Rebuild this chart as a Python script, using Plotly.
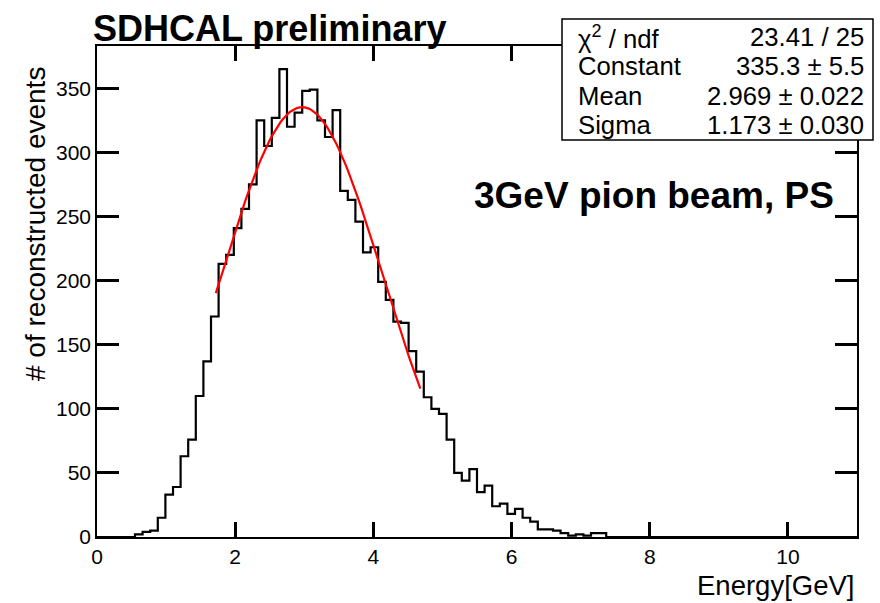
import plotly.graph_objects as go
import math

# ---------------- data ----------------
X_MIN, X_MAX, N_BINS = 0.0, 11.0, 100
BIN_COUNTS = [
    0, 0, 0, 0, 0, 2, 4, 5, 15, 33,
    39, 63, 76, 110, 137, 172, 213, 220, 241, 256,
    275, 325, 305, 327, 365, 320, 331, 348, 349, 325,
    312, 333, 270, 263, 246, 222, 226, 199, 185, 168,
    167, 145, 129, 109, 100, 96, 76, 50, 44, 53,
    35, 40, 24, 26, 18, 22, 15, 12, 6, 6,
    5, 3, 1, 2, 1, 3, 3, 0, 0, 0,
    0, 0, 0, 0, 0, 0, 0, 0, 0, 0,
    0, 0, 0, 0, 0, 0, 0, 0, 0, 0,
    0, 0, 0, 0, 0, 0, 0, 0, 0, 0,
]
# Gaussian fit parameters as printed in the stats box
FIT_CONSTANT = 335.3
FIT_MEAN = 2.969
FIT_SIGMA = 1.173
FIT_RANGE = (1.72, 4.68)
FIT_NPOINTS = 100

STAT_LABELS = ["χ<sup>2</sup> / ndf", "Constant", "Mean", "Sigma"]
STAT_VALUES = ["23.41 / 25", "335.3 ± 5.5", "2.969 ± 0.022", "1.173 ± 0.030"]

X_MAJOR = 2
Y_MAJOR = 50
Y_MAX = 383

# ---------------- build ----------------
width = (X_MAX - X_MIN) / N_BINS
edges = [X_MIN + i * width for i in range(N_BINS + 1)]
hx = edges
hy = BIN_COUNTS + [BIN_COUNTS[-1]]

fx = [FIT_RANGE[0] + (FIT_RANGE[1] - FIT_RANGE[0]) * i / (FIT_NPOINTS - 1) for i in range(FIT_NPOINTS)]
fy = [FIT_CONSTANT * math.exp(-0.5 * ((x - FIT_MEAN) / FIT_SIGMA) ** 2) for x in fx]

W, H = 880, 603
L, R, T, B = 97, 23, 46, 66
PW, PH = W - L - R, H - T - B


def px(xp):
    return (xp - L) / PW


def py(yp):
    return (H - B - yp) / PH


FONT = "Liberation Sans, Arial, Helvetica, sans-serif"
TW = 3
LW = 1.5

fig = go.Figure()
fig.add_trace(go.Scatter(x=hx, y=hy, mode="lines", line=dict(shape="hv", color="black", width=2.2),
                         showlegend=False, hoverinfo="skip"))
fig.add_trace(go.Scatter(x=fx, y=fy, mode="lines", line=dict(color="#ff0000", width=2.2),
                         showlegend=False, hoverinfo="skip"))

fig.update_xaxes(range=[X_MIN, X_MAX], tickmode="linear", tick0=0, dtick=X_MAJOR,
                 ticks="inside", ticklen=15, tickwidth=TW, tickcolor="#000000",
                 showline=True, linecolor="black", linewidth=LW, mirror="ticks",
                 showgrid=False, zeroline=False,
                 tickfont=dict(family=FONT, size=21, color="black"))
fig.update_yaxes(range=[0, Y_MAX], tickmode="linear", tick0=0, dtick=Y_MAJOR,
                 ticks="inside", ticklen=22, tickwidth=TW, tickcolor="#000000",
                 showline=True, linecolor="black", linewidth=LW, mirror="ticks",
                 showgrid=False, zeroline=False,
                 tickfont=dict(family=FONT, size=21, color="black"))

annotations = [
    dict(text="<b>SDHCAL preliminary</b>", x=px(91), y=py(28), xref="paper", yref="paper",
         xanchor="left", yanchor="middle", showarrow=False,
         font=dict(family=FONT, size=36, color="black")),
    dict(text="<b>3GeV pion beam, PS</b>", x=px(836), y=py(195), xref="paper", yref="paper",
         xanchor="right", yanchor="middle", showarrow=False,
         font=dict(family=FONT, size=37, color="black")),
    dict(text="Energy[GeV]", x=px(856), y=py(585), xref="paper", yref="paper",
         xanchor="right", yanchor="middle", showarrow=False,
         font=dict(family=FONT, size=27.5, color="black")),
    dict(text="# of reconstructed events", x=px(35), y=py(224), xref="paper", yref="paper",
         xanchor="center", yanchor="middle", showarrow=False, textangle=-90,
         font=dict(family=FONT, size=28, color="black")),
]

row_y = [37, 66, 96, 125]
for lab, val, yy in zip(STAT_LABELS, STAT_VALUES, row_y):
    annotations.append(dict(text=lab, x=px(576), y=py(yy), xref="paper", yref="paper",
                            xanchor="left", yanchor="middle", showarrow=False,
                            font=dict(family=FONT, size=25.7, color="black")))
    annotations.append(dict(text=val, x=px(866), y=py(yy), xref="paper", yref="paper",
                            xanchor="right", yanchor="middle", showarrow=False,
                            font=dict(family=FONT, size=25.7, color="black")))

shapes = [dict(type="rect", xref="paper", yref="paper", x0=px(562), x1=px(873), y0=py(140), y1=py(19),
               line=dict(color="black", width=LW), fillcolor="white", layer="above")]

fig.update_layout(width=W, height=H, margin=dict(l=L, r=R, t=T, b=B),
                  paper_bgcolor="white", plot_bgcolor="white",
                  annotations=annotations, shapes=shapes, showlegend=False)

fig.write_html("out.html")
